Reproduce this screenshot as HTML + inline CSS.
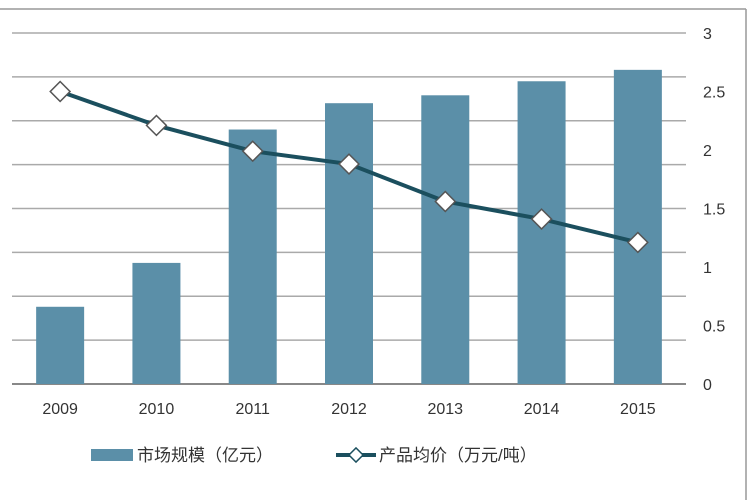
<!DOCTYPE html>
<html><head><meta charset="utf-8"><style>
body{margin:0;background:#fff;}
svg{display:block;font-family:"Liberation Sans","Noto Sans CJK SC",sans-serif;}
</style></head><body>
<svg id="chart" width="750" height="500" viewBox="0 0 750 500">
<line x1="0" y1="9" x2="746" y2="9" stroke="#999" stroke-width="1.5"/>
<line x1="746" y1="9" x2="746" y2="500" stroke="#999" stroke-width="1.5"/>
<g id="grid"></g><g id="bars"></g><g id="line"></g><g id="xt"></g><g id="yt"></g>
<g>
<rect x="91" y="449" width="42" height="12" fill="#5b8fa8"/>
<text x="137" y="461" font-size="17" fill="#333">市场规模（亿元）</text>
<line x1="336" y1="455" x2="376" y2="455" stroke="#1b4f5e" stroke-width="4"/>
<rect x="351" y="450" width="10" height="10" transform="rotate(45 356 455)" fill="#fff" stroke="#1b4f5e" stroke-width="1.5"/>
<text x="379" y="461" font-size="17" fill="#333">产品均价（万元/吨）</text>
</g>
</svg>
<script>
const categories=["2009","2010","2011","2012","2013","2014","2015"];
const marketSize=[88,138,290,320,329,345,358];
const avgPrice=[2.5,2.21,1.99,1.88,1.56,1.41,1.21];
const rightTicks=[0,0.5,1,1.5,2,2.5,3];
const NS="http://www.w3.org/2000/svg";
const L=12,R=686,T=33,B=384;
const bw=(R-L)/categories.length;
const xc=i=>L+bw*(i+0.5);
const yL=v=>B-(v/400)*(B-T);
const yR=v=>B-(v/3)*(B-T);
function mk(t,a,p){const e=document.createElementNS(NS,t);for(const k in a)e.setAttribute(k,a[k]);document.getElementById(p).appendChild(e);return e;}
for(let g=0;g<=400;g+=50){const e=mk("line",{x1:L,x2:R,y1:yL(g),y2:yL(g),stroke:g===0?"#888":"#aaa","stroke-width":g===0?2:1.5},"grid");

}
categories.forEach((c,i)=>{
const b=mk("rect",{x:xc(i)-24,y:yL(marketSize[i]),width:48,height:B-yL(marketSize[i]),fill:"#5b8fa8"},"bars");


const t=mk("text",{x:xc(i),y:414,"text-anchor":"middle","font-size":"16",fill:"#333"},"xt");t.textContent=c;


});
const pl=mk("polyline",{points:avgPrice.map((v,i)=>xc(i)+","+yR(v)).join(" "),fill:"none",stroke:"#1b4f5e","stroke-width":4},"line");


avgPrice.forEach((v,i)=>{
const m=mk("rect",{x:xc(i)-7,y:yR(v)-7,width:14,height:14,transform:`rotate(45 ${xc(i)} ${yR(v)})`,fill:"#fff",stroke:"#555","stroke-width":1.5},"line");


});
rightTicks.forEach(v=>{
const t=mk("text",{x:703,y:yR(v)+6,"font-size":"16",fill:"#333"},"yt");t.textContent=String(v);


});
</script>
</body></html>
